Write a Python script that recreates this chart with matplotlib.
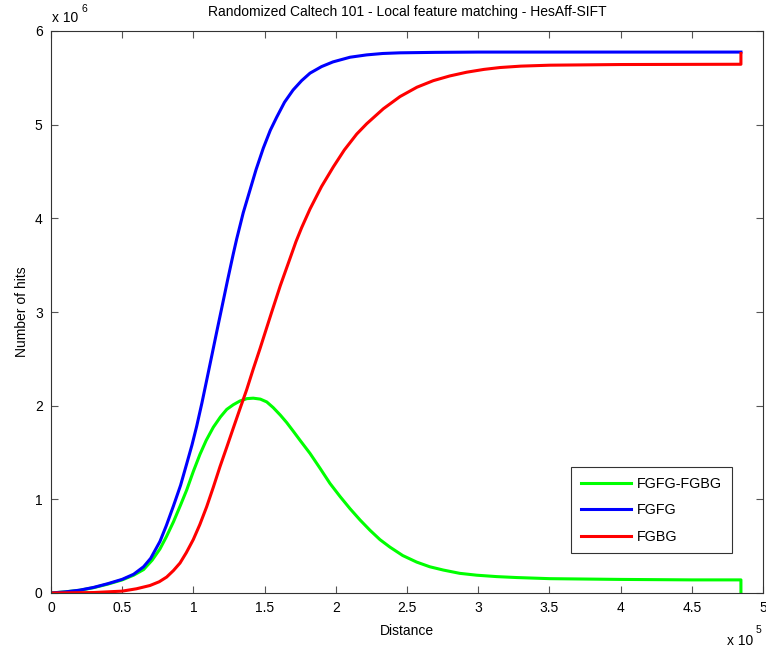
import matplotlib
matplotlib.use('Agg')
import matplotlib.pyplot as plt

plt.rcParams['font.family'] = ['Liberation Sans', 'DejaVu Sans']

# distances in units of 1e5, hit counts in units of 1e6
fgfg_x = [0, 0.1, 0.2, 0.3, 0.4, 0.5, 0.58, 0.65, 0.7, 0.765, 0.81, 0.86, 0.91, 0.953,
          0.99, 1.023, 1.06, 1.093, 1.13, 1.164, 1.2, 1.24, 1.28, 1.304, 1.35, 1.397,
          1.44, 1.491, 1.54, 1.585, 1.64, 1.70, 1.76, 1.819, 1.9, 1.98, 2.1, 2.217,
          2.33, 2.45, 2.7, 3.0, 4.0, 4.845]
fgfg_y = [0, 0.012, 0.03, 0.06, 0.1, 0.146, 0.2, 0.28, 0.37, 0.55, 0.72, 0.93, 1.15, 1.38,
          1.58, 1.78, 2.03, 2.27, 2.54, 2.79, 3.05, 3.34, 3.62, 3.78, 4.06, 4.30,
          4.52, 4.75, 4.94, 5.08, 5.24, 5.37, 5.47, 5.55, 5.62, 5.67, 5.72, 5.745,
          5.76, 5.767, 5.772, 5.775, 5.775, 5.775]

fgbg_x = [0, 0.3, 0.5, 0.6, 0.695, 0.76, 0.812, 0.86, 0.906, 0.95, 0.999, 1.045,
          1.093, 1.14, 1.187, 1.235, 1.28, 1.33, 1.374, 1.42, 1.468, 1.51, 1.55, 1.61,
          1.678, 1.72, 1.76, 1.819, 1.9, 1.983, 2.06, 2.147, 2.217, 2.334, 2.451,
          2.57, 2.685, 2.8, 2.919, 3.04, 3.153, 3.3, 3.504, 4.0, 4.845, 4.845]
fgbg_y = [0, 0.005, 0.02, 0.045, 0.08, 0.12, 0.17, 0.24, 0.32, 0.43, 0.57, 0.73,
          0.92, 1.13, 1.35, 1.56, 1.76, 1.98, 2.17, 2.39, 2.61, 2.81, 3.0, 3.28,
          3.57, 3.75, 3.90, 4.10, 4.34, 4.55, 4.73, 4.90, 5.01, 5.17, 5.30,
          5.40, 5.47, 5.52, 5.56, 5.59, 5.61, 5.625, 5.635, 5.642, 5.645, 5.76]

diff_x = [0, 0.1, 0.2, 0.3, 0.4, 0.5, 0.58, 0.65, 0.71, 0.765, 0.81, 0.86, 0.91, 0.953,
          1.0, 1.046, 1.09, 1.14, 1.19, 1.234, 1.28, 1.327, 1.375, 1.42, 1.47, 1.515,
          1.56, 1.61, 1.655, 1.70, 1.749, 1.819, 1.89, 1.959, 2.03, 2.10, 2.17, 2.24,
          2.31, 2.38, 2.47, 2.568, 2.66, 2.755, 2.87, 2.99, 3.13, 3.27, 3.504, 4.0,
          4.5, 4.845, 4.845]
diff_y = [0, 0.012, 0.029, 0.057, 0.095, 0.14, 0.19, 0.25, 0.35, 0.47, 0.6, 0.76, 0.94, 1.10,
          1.30, 1.48, 1.63, 1.77, 1.88, 1.96, 2.01, 2.05, 2.075, 2.08, 2.07, 2.04,
          1.98, 1.90, 1.82, 1.73, 1.63, 1.49, 1.33, 1.17, 1.03, 0.90, 0.78, 0.67,
          0.57, 0.49, 0.40, 0.33, 0.28, 0.245, 0.21, 0.19, 0.175, 0.165, 0.153, 0.145,
          0.14, 0.14, 0.0]

x_ticks = [0, 0.5, 1, 1.5, 2, 2.5, 3, 3.5, 4, 4.5, 5]
x_labels = ['0', '0.5', '1', '1.5', '2', '2.5', '3', '3.5', '4', '4.5', '5']
y_ticks = [0, 1, 2, 3, 4, 5, 6]

W, H = 766, 652
fig = plt.figure(figsize=(W / 100, H / 100), dpi=100)
ax = fig.add_axes([51 / W, 1 - 593 / H, 712 / W, 562 / H])

ax.plot(diff_x, diff_y, color='#00ff00', lw=2.2, label='FGFG-FGBG')
ax.plot(fgfg_x, fgfg_y, color='#0000ff', lw=2.2, label='FGFG')
ax.plot(fgbg_x, fgbg_y, color='#ff0000', lw=2.2, label='FGBG')

ax.set_xlim(0, 5)
ax.set_ylim(0, 6)
ax.set_xticks(x_ticks)
ax.set_xticklabels(x_labels)
ax.set_yticks(y_ticks)
ax.tick_params(direction='in', length=5, width=0.8, color='#555555',
               top=True, right=True, labelsize=10, pad=6)
for s in ax.spines.values():
    s.set_color('#333333')
    s.set_linewidth(0.8)

fig.text(407 / W, 1 - 12 / H,
         'Randomized Caltech 101 - Local feature matching - HesAff-SIFT',
         fontsize=10, ha='center', va='center')
ax.set_xlabel('Distance', fontsize=10, labelpad=6)
ax.set_ylabel('Number of hits', fontsize=10, labelpad=4)

# exponent labels, MATLAB style
fig.text(52 / W, 1 - 18 / H, 'x 10', fontsize=10, ha='left', va='center')
fig.text(81 / W, 1 - 9 / H, '6', fontsize=7.5, ha='left', va='center')
fig.text(727 / W, 1 - 641 / H, 'x 10', fontsize=10, ha='left', va='center')
fig.text(756 / W, 1 - 630 / H, '5', fontsize=7.5, ha='left', va='center')

leg = ax.legend(loc='lower right', bbox_to_anchor=(0.956, 0.071), borderaxespad=0,
                fancybox=False, edgecolor='black', fontsize=10.3, handlelength=3.5,
                labelspacing=0.88, borderpad=0.65, handletextpad=0.45)
leg.get_frame().set_linewidth(0.8)

fig.savefig('out.png', dpi=100)
